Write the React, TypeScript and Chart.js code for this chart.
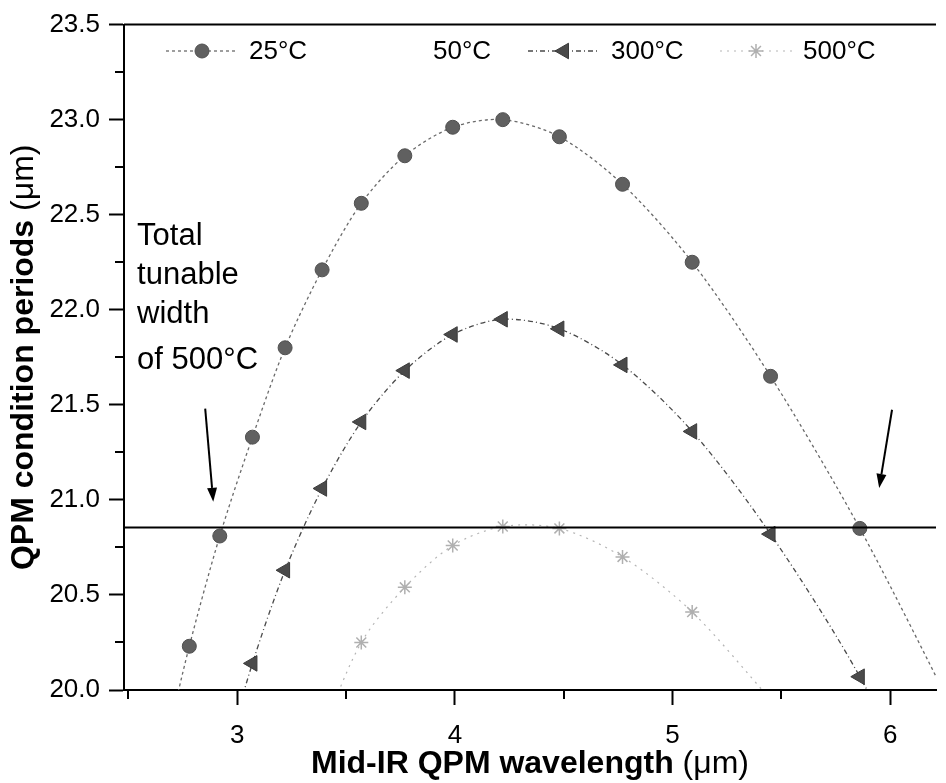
import React, { useEffect, useRef } from 'react';
import { Chart, registerables } from 'chart.js';
import { drawPoint } from 'chart.js/helpers';

Chart.register(...registerables);

// ---------- data ----------
const wavelength = [2.66, 2.78, 2.92, 3.07, 3.22, 3.39, 3.57, 3.77, 3.99, 4.22, 4.48, 4.77, 5.09, 5.45, 5.86, 6.33];
const period25: (number | null)[] = [19.65, 20.23, 20.81, 21.33, 21.8, 22.21, 22.56, 22.81, 22.96, 23.0, 22.91, 22.66, 22.25, 21.65, 20.85, 19.8];
const period50: (number | null)[] = [];
const period300: (number | null)[] = [null, null, 19.55, 20.14, 20.63, 21.06, 21.41, 21.68, 21.87, 21.95, 21.9, 21.71, 21.36, 20.82, 20.07, 19.0];
const period500: (number | null)[] = [null, null, null, null, null, 19.78, 20.25, 20.54, 20.76, 20.86, 20.85, 20.7, 20.41, 19.95, null, null];
const seriesLabels = ['25°C', '50°C', '300°C', '500°C'];

const xMin = 2.48;
const xMax = 6.21;
const yMin = 20.0;
const yMax = 23.5;
const xMinorTicks = [2.5, 3.5, 4.5, 5.5];
const yMinorTicks = [20.25, 20.75, 21.25, 21.75, 22.25, 22.75, 23.25];
const thresholdPeriod = 20.855;

const noteLines = ['Total', 'tunable', 'width', 'of 500°C'];
const noteX = 2.54;
const noteBaselines = [22.34, 22.136, 21.931, 21.69];
const arrows = [
  { from: [2.853, 21.48], to: [2.89, 20.99] },
  { from: [6.008, 21.474], to: [5.949, 21.063] },
];

const xTitleBold = 'Mid-IR QPM wavelength ';
const yTitleBold = 'QPM condition periods ';
const titleUnit = '(μm)';

const FONT = "'Liberation Sans', Arial, Helvetica, sans-serif";

function toPoints(vals: (number | null)[]) {
  const out: { x: number; y: number }[] = [];
  vals.forEach((v, i) => {
    if (v !== null && v !== undefined) out.push({ x: wavelength[i], y: v });
  });
  return out;
}

const legendStarts = [166, 350, 528, 720];

const decorPlugin = {
  id: 'decor',
  afterDatasetsDraw(chart: any) {
    const ctx = chart.ctx;
    const ca = chart.chartArea;
    const xs = chart.scales.x;
    const ys = chart.scales.y;
    ctx.save();
    ctx.strokeStyle = '#000';
    ctx.fillStyle = '#000';

    // top frame
    ctx.lineWidth = 2;
    ctx.beginPath();
    ctx.moveTo(ca.left, ca.top);
    ctx.lineTo(ca.right, ca.top);
    ctx.stroke();

    // minor ticks
    ctx.lineWidth = 2;
    xMinorTicks.forEach((v) => {
      const px = Math.round(xs.getPixelForValue(v));
      ctx.beginPath();
      ctx.moveTo(px, ca.bottom);
      ctx.lineTo(px, ca.bottom + 9);
      ctx.stroke();
    });
    yMinorTicks.forEach((v) => {
      const py = Math.round(ys.getPixelForValue(v));
      ctx.beginPath();
      ctx.moveTo(ca.left - 9, py);
      ctx.lineTo(ca.left, py);
      ctx.stroke();
    });

    // threshold line
    const ty = ys.getPixelForValue(thresholdPeriod);
    ctx.lineWidth = 2;
    ctx.beginPath();
    ctx.moveTo(ca.left, ty);
    ctx.lineTo(ca.right, ty);
    ctx.stroke();

    // arrows
    arrows.forEach((a) => {
      const x1 = xs.getPixelForValue(a.from[0]);
      const y1 = ys.getPixelForValue(a.from[1]);
      const x2 = xs.getPixelForValue(a.to[0]);
      const y2 = ys.getPixelForValue(a.to[1]);
      const ang = Math.atan2(y2 - y1, x2 - x1);
      const hl = 14;
      const hw = 5;
      const bx = x2 - hl * Math.cos(ang);
      const by = y2 - hl * Math.sin(ang);
      ctx.lineWidth = 2;
      ctx.beginPath();
      ctx.moveTo(x1, y1);
      ctx.lineTo(bx, by);
      ctx.stroke();
      ctx.beginPath();
      ctx.moveTo(x2, y2);
      ctx.lineTo(bx + hw * Math.sin(ang), by - hw * Math.cos(ang));
      ctx.lineTo(bx - hw * Math.sin(ang), by + hw * Math.cos(ang));
      ctx.closePath();
      ctx.fill();
    });

    // annotation text
    ctx.font = `31px ${FONT}`;
    ctx.textAlign = 'left';
    ctx.textBaseline = 'alphabetic';
    const nx = xs.getPixelForValue(noteX);
    noteLines.forEach((t, i) => {
      ctx.fillText(t, nx, ys.getPixelForValue(noteBaselines[i]));
    });

    // legend
    const ly = 51;
    chart.data.datasets.forEach((ds: any, i: number) => {
      const sx = legendStarts[i];
      const sw = 72;
      if (ds.borderColor && ds.borderColor !== 'rgba(0,0,0,0)') {
        ctx.save();
        ctx.strokeStyle = ds.borderColor;
        ctx.lineWidth = ds.borderWidth;
        ctx.setLineDash(ds.borderDash || []);
        ctx.beginPath();
        ctx.moveTo(sx, ly);
        ctx.lineTo(sx + sw, ly);
        ctx.stroke();
        ctx.restore();
      }
      if (ds.pointRadius > 0) {
        ctx.save();
        ctx.fillStyle = ds.pointBackgroundColor;
        ctx.strokeStyle = ds.pointBorderColor;
        ctx.lineWidth = ds.pointBorderWidth;
        drawPoint(ctx, {
          pointStyle: ds.pointStyle,
          rotation: ds.pointRotation || 0,
          radius: ds.pointRadius,
          borderWidth: ds.pointBorderWidth,
        } as any, sx + sw / 2, ly);
        ctx.restore();
      }
      ctx.fillStyle = '#000';
      ctx.font = `26px ${FONT}`;
      ctx.textAlign = 'left';
      ctx.textBaseline = 'alphabetic';
      ctx.fillText(ds.label, sx + sw + 11, ly + 8);
    });

    // axis titles
    const drawTitle = (cx: number, cy: number, bold: string, rot: number) => {
      ctx.save();
      ctx.translate(cx, cy);
      ctx.rotate(rot);
      ctx.font = `bold 32px ${FONT}`;
      const w1 = ctx.measureText(bold).width;
      ctx.font = `32px ${FONT}`;
      const w2 = ctx.measureText(titleUnit).width;
      const start = -(w1 + w2) / 2;
      ctx.textAlign = 'left';
      ctx.textBaseline = 'alphabetic';
      ctx.fillStyle = '#000';
      ctx.font = `bold 32px ${FONT}`;
      ctx.fillText(bold, start, 0);
      ctx.font = `32px ${FONT}`;
      ctx.fillText(titleUnit, start + w1, 0);
      ctx.restore();
    };
    drawTitle((ca.left + ca.right) / 2, 773, xTitleBold, 0);
    drawTitle(33, (ca.top + ca.bottom) / 2, yTitleBold, -Math.PI / 2);

    ctx.restore();
  },
};

export default function App() {
  const ref = useRef<HTMLCanvasElement | null>(null);

  useEffect(() => {
    if (!ref.current) return;
    const chart = new Chart(ref.current, {
      type: 'line',
      data: {
        datasets: [
          {
            label: seriesLabels[0],
            data: toPoints(period25),
            borderColor: '#6a6a6a',
            borderWidth: 1.3,
            borderDash: [3, 3],
            tension: 0.3,
            pointStyle: 'circle',
            pointRadius: 7,
            pointBackgroundColor: '#606060',
            pointBorderColor: '#505050',
            pointBorderWidth: 1,
            clip: 0,
          },
          {
            label: seriesLabels[1],
            data: toPoints(period50),
            borderColor: 'rgba(0,0,0,0)',
            borderWidth: 0,
            pointRadius: 0,
            showLine: false,
            clip: 0,
          },
          {
            label: seriesLabels[2],
            data: toPoints(period300),
            borderColor: '#4a4a4a',
            borderWidth: 1.3,
            borderDash: [5, 3, 1, 3],
            tension: 0.3,
            pointStyle: 'triangle',
            pointRotation: -90,
            pointRadius: 9,
            pointBackgroundColor: '#4a4a4a',
            pointBorderColor: '#3a3a3a',
            pointBorderWidth: 1,
            clip: 0,
          },
          {
            label: seriesLabels[3],
            data: toPoints(period500),
            borderColor: '#b5b5b5',
            borderWidth: 1.2,
            borderDash: [2, 5],
            tension: 0.3,
            pointStyle: 'star',
            pointRadius: 7,
            pointBackgroundColor: '#b0b0b0',
            pointBorderColor: '#b0b0b0',
            pointBorderWidth: 1.5,
            clip: 0,
          },
        ] as any,
      },
      options: {
        animation: false,
        responsive: false,
        devicePixelRatio: 1,
        layout: { padding: { top: 23, left: 0, right: 0, bottom: 0 } },
        plugins: {
          legend: { display: false },
          tooltip: { enabled: false },
        },
        scales: {
          x: {
            type: 'linear',
            min: xMin,
            max: xMax,
            ticks: {
              stepSize: 1,
              includeBounds: false,
              font: { size: 26, family: FONT },
              color: '#000',
              padding: 15,
              maxRotation: 0,
            },
            grid: {
              display: true,
              drawOnChartArea: false,
              drawTicks: true,
              tickLength: 15,
              tickWidth: 2,
              tickColor: '#000',
            },
            border: { display: true, color: '#000', width: 2 },
            afterFit: (s: any) => {
              s.height = 93;
            },
          },
          y: {
            type: 'linear',
            min: yMin,
            max: yMax,
            ticks: {
              stepSize: 0.5,
              includeBounds: false,
              font: { size: 26, family: FONT },
              color: '#000',
              padding: 9,
              callback: (v: any) => Number(v).toFixed(1),
            },
            grid: {
              display: true,
              drawOnChartArea: false,
              drawTicks: true,
              tickLength: 15,
              tickWidth: 2,
              tickColor: '#000',
            },
            border: { display: true, color: '#000', width: 2 },
            afterFit: (s: any) => {
              s.width = 124;
            },
          },
        },
      } as any,
      plugins: [decorPlugin],
    });
    return () => chart.destroy();
  }, []);

  return (
    <div style={{ position: 'absolute', left: 0, top: 0, width: 946, height: 783, background: '#fff' }}>
      <canvas ref={ref} width={946} height={783} style={{ display: 'block', width: 946, height: 783 }} />
    </div>
  );
}
